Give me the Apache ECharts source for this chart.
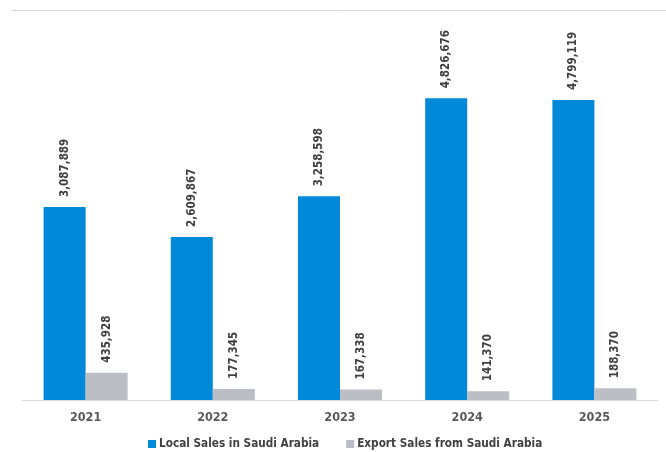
<!DOCTYPE html>
<html>
<head>
<meta charset="utf-8">
<script src="https://cdn.jsdelivr.net/npm/echarts@6/dist/echarts.min.js"></script>
<style>
  html, body { margin: 0; padding: 0; background: #ffffff; }
  #chart { width: 666px; height: 452px; }
</style>
</head>
<body>
<div id="chart"></div>
<script>
// Yearly sales volumes
const years = ['2021', '2022', '2023', '2024', '2025'];
const localSales = [3087889, 2609867, 3258598, 4826676, 4799119];
const exportSales = [435928, 177345, 167338, 141370, 188370];
const seriesNames = ['Local Sales in Saudi Arabia', 'Export Sales from Saudi Arabia'];

const FONT = '"DejaVu Sans Condensed", "DejaVu Sans", sans-serif';
const fmt = v => v.toLocaleString('en-US');

const labelStyle = {
  show: true,
  position: 'top',
  rotate: 90,
  align: 'left',
  verticalAlign: 'middle',
  distance: 10,
  color: '#404040',
  fontFamily: FONT,
  fontWeight: 'bold',
  fontSize: 11.5,
  formatter: p => fmt(p.value)
};

const chart = echarts.init(document.getElementById('chart'), null, { renderer: 'canvas' });
chart.setOption({
  animation: false,
  backgroundColor: '#ffffff',
  grid: { left: 22, right: 8, top: 25, bottom: 52, containLabel: false },
  graphic: [{
    type: 'line',
    shape: { x1: 11, y1: 10.5, x2: 666, y2: 10.5 },
    style: { stroke: '#d9d9d9', lineWidth: 1 },
    silent: true
  }],
  legend: {
    data: seriesNames,
    top: 433,
    left: 143,
    itemWidth: 8,
    itemHeight: 8,
    itemGap: 27,
    icon: 'rect',
    textStyle: { color: '#404040', fontFamily: FONT, fontWeight: 'bold', fontSize: 11.7, padding: [0, 0, 0, -2] }
  },
  xAxis: {
    type: 'category',
    data: years,
    axisLine: { show: true, lineStyle: { color: '#d9d9d9', width: 1 } },
    axisTick: { show: false },
    axisLabel: { color: '#595959', fontFamily: FONT, fontWeight: 'bold', fontSize: 12.5, margin: 11 }
  },
  yAxis: {
    type: 'value',
    min: 0,
    max: 6000000,
    show: false,
    splitLine: { show: false }
  },
  series: [
    {
      name: seriesNames[0],
      type: 'bar',
      data: localSales,
      barWidth: 42,
      barGap: '0%',
      itemStyle: { color: '#0089d9' },
      label: labelStyle
    },
    {
      name: seriesNames[1],
      type: 'bar',
      data: exportSales,
      barWidth: 42,
      itemStyle: { color: '#bcbec6' },
      label: labelStyle
    }
  ]
});
</script>
</body>
</html>
